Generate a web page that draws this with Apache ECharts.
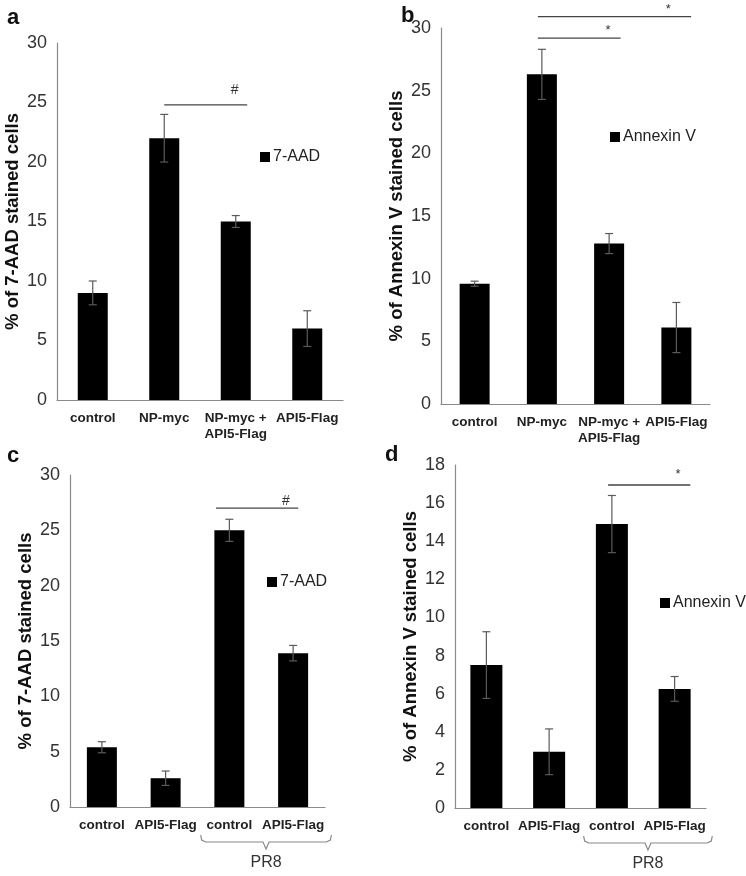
<!DOCTYPE html>
<html><head><meta charset="utf-8">
<script src="https://cdn.jsdelivr.net/npm/echarts@6/dist/echarts.min.js"></script>
<style>html,body{margin:0;padding:0;background:#fff}#c{width:746px;height:876px}</style>
</head><body><div id="c"></div>
<script>
// ---- data ----
const catsAB = ['control', 'NP-myc', 'NP-myc +\nAPI5-Flag', 'API5-Flag'];
const catsCD = ['control', 'API5-Flag', 'control', 'API5-Flag'];
const aValues = [9, 22, 15, 6];
const aErrors = [1, 2, 0.5, 1.5];
const bValues = [9.6, 26.3, 12.8, 6.1];
const bErrors = [0.2, 2.0, 0.8, 2.0];
const cValues = [5.4, 2.6, 25.0, 13.9];
const cErrors = [0.5, 0.65, 1.0, 0.7];
const dValues = [7.5, 2.95, 14.9, 6.25];
const dErrors = [1.75, 1.2, 1.5, 0.65];
const yTicksABC = [0, 5, 10, 15, 20, 25, 30];
const yTicksD = [0, 2, 4, 6, 8, 10, 12, 14, 16, 18];
// significance: [fromCat, toCat, lineValue, textValue, symbol]
const sigA = [[1.0, 2.16, 24.8, 26.0, '#']];
const sigB = [[0.94, 3.22, 30.9, 31.5, '*'], [0.94, 2.17, 29.2, 29.8, '*']];
const sigC = [[1.79, 3.08, 27.0, 27.6, '#']];
const sigD = [[1.94, 3.25, 16.95, 17.5, '*']];
const groupLabel = 'PR8';
const groupSpan = [1.55, 3.6];

const FONT = '"Liberation Sans", Arial, sans-serif';
const panels = [
  {letter:'a', cats:catsAB, vals:aValues, errs:aErrors, sig:sigA, name:'7-AAD', yName:'% of 7-AAD stained cells', max:30, interval:5,
   grid:{left:57, top:43, width:286, height:357}, legend:{left:260, top:149}, letterPos:{left:2, top:2}, bracket:false, barW:30},
  {letter:'b', cats:catsAB, vals:bValues, errs:bErrors, sig:sigB, name:'Annexin V', yName:'% of Annexin V stained cells', max:30, interval:5,
   grid:{left:441, top:28, width:269, height:376}, legend:{left:610, top:129}, letterPos:{left:396, top:0}, bracket:false, barW:30},
  {letter:'c', cats:catsCD, vals:cValues, errs:cErrors, sig:sigC, name:'7-AAD', yName:'% of 7-AAD stained cells', max:30, interval:5,
   grid:{left:70, top:475, width:255, height:332}, legend:{left:267, top:574}, letterPos:{left:2, top:440}, bracket:true, barW:30},
  {letter:'d', cats:catsCD, vals:dValues, errs:dErrors, sig:sigD, name:'Annexin V', yName:'% of Annexin V stained cells', max:18, interval:2,
   grid:{left:455, top:465, width:251, height:343}, legend:{left:660, top:595}, letterPos:{left:380, top:439}, bracket:true, barW:32}
];

const chart = echarts.init(document.getElementById('c'), null, {renderer:'canvas'});
const option = {
  backgroundColor:'#fff', animation:false,
  title:[], grid:[], xAxis:[], yAxis:[], legend:[], series:[]
};

panels.forEach((p, i) => {
  option.title.push({text:p.letter, left:p.letterPos.left, top:p.letterPos.top,
    textStyle:{fontFamily:FONT, fontSize:22, fontWeight:'bold', color:'#111'}});
  option.grid.push(Object.assign({containLabel:false}, p.grid));
  option.xAxis.push({type:'category', gridIndex:i, data:p.cats,
    axisLine:{onZero:false, lineStyle:{color:'#8a8a8a', width:1.2}}, axisTick:{show:false},
    axisLabel:{interval:0, fontFamily:FONT, fontSize:13.5, fontWeight:'bold', color:'#222', margin:10, lineHeight:16}});
  option.yAxis.push({type:'value', gridIndex:i, min:0, max:p.max, interval:p.interval,
    name:p.yName, nameLocation:'middle', nameGap:35,
    nameTextStyle:{fontFamily:FONT, fontSize:18.5, fontWeight:'bold', color:'#111'},
    axisLine:{show:true, onZero:false, lineStyle:{color:'#8a8a8a', width:1.2}}, axisTick:{show:false}, splitLine:{show:false},
    axisLabel:{fontFamily:FONT, fontSize:18, color:'#333', margin:10}});
  option.legend.push({data:[p.name], left:p.legend.left, top:p.legend.top, padding:0, icon:'rect', itemWidth:10, itemHeight:10, itemGap:4,
    textStyle:{fontFamily:FONT, fontSize:16, color:'#222', padding:[0,0,0,-2]}, selectedMode:false});
});
// hidden value x axes for annotations
panels.forEach((p, i) => {
  option.xAxis.push({type:'value', gridIndex:i, min:-0.5, max:3.5, show:false});
});

panels.forEach((p, i) => {
  option.series.push({type:'bar', name:p.name, xAxisIndex:i, yAxisIndex:i, data:p.vals, barWidth:p.barW,
    itemStyle:{color:'#000'}});
  option.series.push({type:'custom', xAxisIndex:i, yAxisIndex:i, z:5,
    data:p.vals.map((v, k) => [k, v, p.errs[k]]),
    renderItem:function(params, api){
      const x = api.value(0), v = api.value(1), e = api.value(2);
      const hi = api.coord([x, v + e]), lo = api.coord([x, v - e]);
      const cw = 4;
      const st = {stroke:'#5a5a5a', lineWidth:1.2};
      return {type:'group', children:[
        {type:'line', shape:{x1:hi[0], y1:hi[1], x2:lo[0], y2:lo[1]}, style:st},
        {type:'line', shape:{x1:hi[0]-cw, y1:hi[1], x2:hi[0]+cw, y2:hi[1]}, style:st},
        {type:'line', shape:{x1:lo[0]-cw, y1:lo[1], x2:lo[0]+cw, y2:lo[1]}, style:st}
      ]};
    }});
  option.series.push({type:'custom', xAxisIndex:4 + i, yAxisIndex:i, z:5, clip:false,
    data:p.sig.map(s => [s[0], s[1], s[2], s[3]]),
    renderItem:function(params, api){
      const a = api.coord([api.value(0), api.value(2)]);
      const b = api.coord([api.value(1), api.value(2)]);
      const tx = api.value(0) + 0.85 * (api.value(1) - api.value(0));
      const t = api.coord([tx, api.value(3)]);
      const sym = p.sig[params.dataIndex][4];
      return {type:'group', children:[
        {type:'line', shape:{x1:a[0], y1:a[1], x2:b[0], y2:b[1]}, style:{stroke:'#444', lineWidth:1.3}},
        {type:'text', x:t[0], y:t[1], style:{text:sym, fontFamily:FONT, fontSize:sym === '#' ? 14 : 13, fill:'#333', align:'center', verticalAlign:'middle'}}
      ]};
    }});
  if (p.bracket) {
    option.series.push({type:'custom', xAxisIndex:4 + i, yAxisIndex:i, z:5, clip:false,
      data:[[groupSpan[0], groupSpan[1]]],
      renderItem:function(params, api){
        const l = api.coord([api.value(0), 0]);
        const r = api.coord([api.value(1), 0]);
        const y = l[1] + 35;
        const cx = (l[0] + r[0]) / 2;
        return {type:'group', children:[
          {type:'polyline', shape:{points:[[l[0], y - 7], [l[0] + 1, y - 2], [l[0] + 5, y], [cx - 3, y], [cx, y + 7], [cx + 3, y], [r[0] - 5, y], [r[0] - 1, y - 2], [r[0], y - 7]]},
            style:{stroke:'#888', lineWidth:1.2, fill:null}},
          {type:'text', x:cx, y:y + 21, style:{text:groupLabel, fontFamily:FONT, fontSize:16, fill:'#333', align:'center', verticalAlign:'middle'}}
        ]};
      }});
  }
});

chart.setOption(option);
</script></body></html>
